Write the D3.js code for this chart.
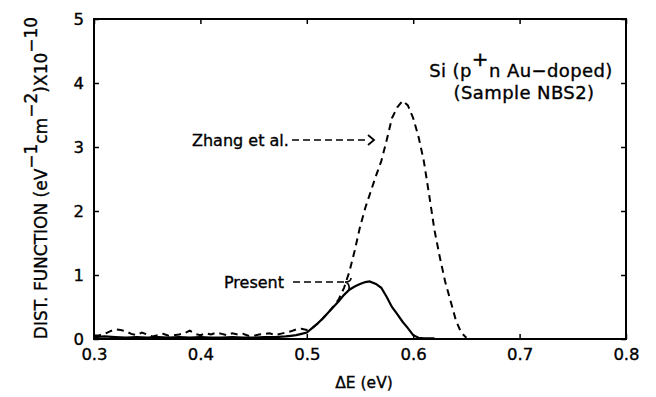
<!DOCTYPE html>
<html><head><meta charset="utf-8">
<script src="https://cdn.jsdelivr.net/npm/d3@7"></script>
<style>body{margin:0;background:#fff}svg{display:block}text{font-family:"DejaVu Sans",sans-serif;fill:#000;stroke:#000;stroke-width:0.35px}</style>
</head><body><svg id="c" width="656" height="397"></svg>
<script>
const xTicks=[0.3,0.4,0.5,0.6,0.7,0.8];
const yTicks=[0,1,2,3,4,5];
const zhangE=[0.300,0.305,0.310,0.315,0.320,0.325,0.330,0.335,0.340,0.345,0.350,0.355,0.360,0.365,0.370,0.375,0.380,0.385,0.390,0.395,0.400,0.405,0.410,0.415,0.420,0.425,0.430,0.435,0.440,0.445,0.450,0.455,0.460,0.465,0.470,0.475,0.480,0.485,0.490,0.495,0.500,0.505,0.510,0.515,0.520,0.525,0.530,0.535,0.540,0.545,0.550,0.555,0.560,0.565,0.570,0.575,0.580,0.585,0.590,0.595,0.600,0.605,0.610,0.615,0.620,0.625,0.630,0.635,0.640,0.645,0.650];
const zhangV=[0.05,0.06,0.08,0.12,0.15,0.14,0.12,0.08,0.06,0.10,0.07,0.04,0.06,0.08,0.05,0.06,0.07,0.09,0.13,0.08,0.06,0.09,0.07,0.10,0.08,0.06,0.09,0.07,0.08,0.05,0.05,0.07,0.08,0.09,0.06,0.08,0.10,0.12,0.15,0.16,0.14,0.17,0.24,0.32,0.41,0.51,0.62,0.80,1.05,1.38,1.75,2.05,2.30,2.55,2.78,3.10,3.45,3.62,3.72,3.65,3.45,3.16,2.78,2.25,1.70,1.28,0.90,0.60,0.30,0.10,0.02];
const presentE=[0.300,0.310,0.320,0.330,0.340,0.350,0.360,0.370,0.380,0.390,0.400,0.410,0.420,0.430,0.440,0.450,0.460,0.470,0.480,0.485,0.490,0.495,0.500,0.505,0.510,0.515,0.520,0.525,0.530,0.535,0.540,0.545,0.550,0.555,0.559,0.565,0.570,0.575,0.580,0.585,0.590,0.595,0.600,0.605,0.610,0.620];
const presentV=[0.03,0.04,0.03,0.02,0.03,0.02,0.03,0.02,0.03,0.02,0.03,0.02,0.02,0.03,0.02,0.02,0.03,0.03,0.04,0.05,0.06,0.08,0.10,0.17,0.24,0.32,0.41,0.50,0.59,0.69,0.77,0.82,0.86,0.89,0.90,0.86,0.80,0.66,0.50,0.39,0.27,0.17,0.06,0.02,0.01,0.01];

const svg=d3.select("#c");
const L=94,R=626,T=19,B=339;
const x=d3.scaleLinear().domain([0.3,0.8]).range([L,R]);
const y=d3.scaleLinear().domain([0,5]).range([B,T]);

svg.append("rect").attr("x",L).attr("y",T).attr("width",R-L).attr("height",B-T)
  .attr("fill","none").attr("stroke","#000").attr("stroke-width",2);

const fs=16.5;
const ax=svg.append("g").attr("transform",`translate(0,${B})`)
  .call(d3.axisBottom(x).tickValues(xTicks).tickSize(-5).tickPadding(9).tickFormat(d3.format(".1f")));
const axT=svg.append("g").attr("transform",`translate(0,${T})`)
  .call(d3.axisTop(x).tickValues(xTicks).tickSize(-5).tickFormat(""));
const ay=svg.append("g").attr("transform",`translate(${L},0)`)
  .call(d3.axisLeft(y).tickValues(yTicks).tickSize(-5).tickPadding(10).tickFormat(d3.format("d")));
const ayR=svg.append("g").attr("transform",`translate(${R},0)`)
  .call(d3.axisRight(y).tickValues(yTicks).tickSize(-5).tickFormat(""));
[ax,axT,ay,ayR].forEach(g=>{g.select(".domain").remove();g.selectAll("line").attr("stroke","#000").attr("stroke-width",1.5);
  g.selectAll("text").attr("font-size",fs).attr("font-family","'DejaVu Sans',sans-serif").attr("fill","#000");});
ax.selectAll("text").attr("dy","0.71em");

const lineZ=d3.line().x((d,i)=>x(zhangE[i])).y(d=>y(d));
svg.append("path").attr("d",lineZ(zhangV)).attr("fill","none").attr("stroke","#000")
  .attr("stroke-width",2).attr("stroke-dasharray","7,5");
const lineP=d3.line().x((d,i)=>x(presentE[i])).y(d=>y(d));
svg.append("path").attr("d",lineP(presentV)).attr("fill","none").attr("stroke","#000")
  .attr("stroke-width",2.2);

svg.append("text").attr("x",364).attr("y",388).attr("text-anchor","middle").attr("font-size",15.5).text("ΔE (eV)");
const yt=svg.append("text").attr("transform","translate(47,178) rotate(-90)").attr("text-anchor","middle").attr("font-size",17);
yt.append("tspan").text("DIST. FUNCTION (eV");
yt.append("tspan").attr("dy",-10).text("−1");
yt.append("tspan").attr("dy",10).text("cm");
yt.append("tspan").attr("dy",-10).text("−2");
yt.append("tspan").attr("dy",10).text(")X10");
yt.append("tspan").attr("dy",-10).text("−10");

const a1=svg.append("text").attr("x",521).attr("y",77).attr("text-anchor","middle").attr("font-size",18).attr("letter-spacing",0.4);
a1.append("tspan").text("Si (p");
a1.append("tspan").attr("dy",-11).attr("font-size",20).text("+");
a1.append("tspan").attr("dy",11).text("n Au−doped)");
svg.append("text").attr("x",524).attr("y",99).attr("text-anchor","middle").attr("font-size",18).attr("letter-spacing",0.4).text("(Sample NBS2)");

svg.append("text").attr("x",192).attr("y",146).attr("font-size",16).text("Zhang et al.");
svg.append("line").attr("x1",292).attr("x2",369).attr("y1",140).attr("y2",140).attr("stroke","#000").attr("stroke-width",1.6).attr("stroke-dasharray","7,4");
svg.append("path").attr("d","M368,135 L374,140 L368,145").attr("fill","none").attr("stroke","#000").attr("stroke-width",1.8);

svg.append("text").attr("x",224).attr("y",288).attr("font-size",16).text("Present");
svg.append("line").attr("x1",293).attr("x2",345).attr("y1",282).attr("y2",282).attr("stroke","#000").attr("stroke-width",1.6).attr("stroke-dasharray","7,4");
svg.append("path").attr("d","M345,282 Q351,282 351,278 M345,282 Q350,283 349,290").attr("fill","none").attr("stroke","#000").attr("stroke-width",1.6);
</script></body></html>
